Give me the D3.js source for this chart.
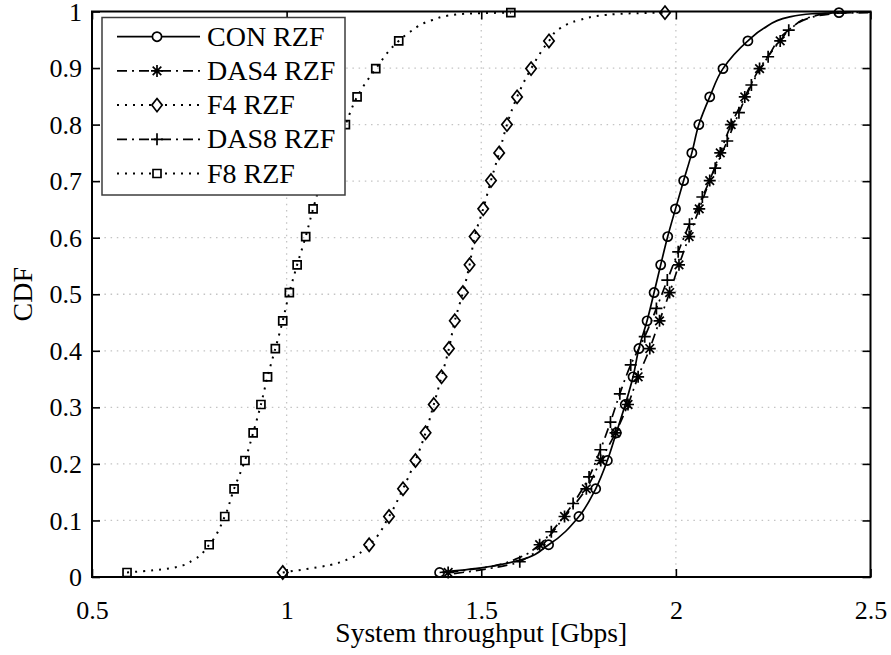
<!DOCTYPE html>
<html>
<head>
<meta charset="utf-8">
<script src="https://cdn.jsdelivr.net/npm/d3@7"></script>
<style>
  body { margin: 0; background: #fff; }
  svg text { font-family: 'Liberation Serif', 'Times New Roman', serif; fill: #000; }
</style>
</head>
<body>
<div id="grafica"></div>
<script>
// niveles de la CDF donde caen los marcadores
niveles     = [0.008, 0.057, 0.107, 0.156, 0.206, 0.255, 0.305, 0.354, 0.404, 0.453, 0.503,
               0.552, 0.602, 0.651, 0.701, 0.750, 0.800, 0.849, 0.899, 0.948, 0.998]
nivelesDas8 = [0.027, 0.080, 0.130, 0.177, 0.225, 0.274, 0.324, 0.375, 0.425, 0.475,
               0.525, 0.575, 0.624, 0.672, 0.723, 0.771, 0.821, 0.870, 0.920, 0.967]

// throughput (Gbps) en cada nivel
conX  = [1.393, 1.673, 1.751, 1.794, 1.824, 1.847, 1.870, 1.890, 1.905, 1.926, 1.944,
         1.961, 1.979, 1.999, 2.020, 2.041, 2.059, 2.087, 2.121, 2.185, 2.419]
das4X = [1.415, 1.650, 1.714, 1.770, 1.807, 1.845, 1.877, 1.903, 1.933, 1.958, 1.984,
         2.008, 2.034, 2.060, 2.087, 2.114, 2.142, 2.177, 2.215, 2.268, 2.520]
f4X   = [0.990, 1.212, 1.263, 1.299, 1.331, 1.357, 1.378, 1.398, 1.417, 1.432, 1.453,
         1.470, 1.483, 1.505, 1.525, 1.546, 1.566, 1.592, 1.628, 1.674, 1.972]
das8X = [1.599, 1.680, 1.736, 1.777, 1.806, 1.832, 1.856, 1.884, 1.920, 1.950,
         1.978, 2.006, 2.035, 2.068, 2.101, 2.132, 2.162, 2.194, 2.237, 2.290]
f8X   = [0.590, 0.801, 0.841, 0.865, 0.893, 0.914, 0.934, 0.951, 0.971, 0.990, 1.007,
         1.027, 1.049, 1.068, 1.090, 1.120, 1.151, 1.181, 1.229, 1.288, 1.576]

// colas de las curvas, puntos [x, cdf] sin marcador
conCola  = [[1.50, 0.016], [1.60, 0.030], [2.225, 0.970], [2.29, 0.990], [2.35, 0.996]]
das4Cola = [[1.52, 0.018], [1.60, 0.035], [2.30, 0.973], [2.35, 0.991], [2.40, 0.997]]
f4Cola   = [[1.05, 0.014], [1.11, 0.021], [1.16, 0.032],
            [1.702, 0.970], [1.753, 0.985], [1.821, 0.994], [1.898, 0.997]]
das8Cola = [[1.43, 0.006], [1.52, 0.015], [2.35, 0.990], [2.42, 0.997], [2.50, 0.999]]
f8Cola   = [[0.66, 0.012], [0.72, 0.018], [0.76, 0.030],
            [1.317, 0.964], [1.375, 0.985], [1.427, 0.994], [1.496, 0.997]]

nombres = ['CON RZF', 'DAS4 RZF', 'F4 RZF', 'DAS8 RZF', 'F8 RZF']
xTicks  = [0.5, 1, 1.5, 2, 2.5]
yTicks  = [0, 0.1, 0.2, 0.3, 0.4, 0.5, 0.6, 0.7, 0.8, 0.9, 1]

ancho_total = 891
alto_total  = 655
margin = { left: 92, right: 20.5, top: 11.5, bottom: 78 }

ancho = ancho_total - margin.left - margin.right
alto  = alto_total - margin.top - margin.bottom

svg = d3
        .select('#grafica')
        .append('svg')
        .attr('width', ancho_total)
        .attr('height', alto_total)

g = svg
      .append('g')
      .attr('transform', `translate(${margin.left}, ${margin.top})`)

x = d3.scaleLinear().domain([0.5, 2.5]).range([0, ancho])
y = d3.scaleLinear().domain([0, 1]).range([alto, 0])

svg.append('defs')
  .append('clipPath')
  .attr('id', 'recorte')
  .append('rect')
  .attr('width', ancho)
  .attr('height', alto)

// rejilla punteada
g.append('g')
  .selectAll('line')
  .data(xTicks.slice(1, -1))
  .enter()
  .append('line')
    .attr('x1', (d) => x(d))
    .attr('x2', (d) => x(d))
    .attr('y1', 0)
    .attr('y2', alto)
g.append('g')
  .selectAll('line')
  .data(yTicks.slice(1, -1))
  .enter()
  .append('line')
    .attr('x1', 0)
    .attr('x2', ancho)
    .attr('y1', (d) => y(d))
    .attr('y2', (d) => y(d))
g.selectAll('line')
  .attr('stroke', '#c4c4c4')
  .attr('stroke-width', 1.3)
  .attr('stroke-dasharray', '1.5,4.7')

// ejes con marcas hacia dentro
fmt = (d) => d3.format('')(d)

xGroup = g.append('g')
          .attr('transform', `translate(0, ${alto})`)
          .call(d3.axisBottom(x).tickValues(xTicks).tickFormat(fmt).tickSizeInner(-8).tickSizeOuter(0))
xGroup.selectAll('text').attr('y', 42).attr('dy', 0).attr('font-size', '26px')

yGroup = g.append('g')
          .call(d3.axisLeft(y).tickValues(yTicks).tickFormat(fmt).tickSizeInner(-8).tickSizeOuter(0))
yGroup.selectAll('text').attr('x', -10).attr('dy', '0.33em').attr('font-size', '26px')

g.append('g')
  .call(d3.axisTop(x).tickValues(xTicks).tickFormat('').tickSizeInner(-8).tickSizeOuter(0))
g.append('g')
  .attr('transform', `translate(${ancho}, 0)`)
  .call(d3.axisRight(y).tickValues(yTicks).tickFormat('').tickSizeInner(-8).tickSizeOuter(0))

g.selectAll('.domain').remove()
g.selectAll('.tick line').attr('stroke', '#000').attr('stroke-width', 1.6)
g.selectAll('.tick text').attr('fill', '#000').attr('font-family', "'Liberation Serif', serif")

g.append('rect')
  .attr('width', ancho)
  .attr('height', alto)
  .attr('fill', 'none')
  .attr('stroke', '#000')
  .attr('stroke-width', 2)

svg.append('text')
  .attr('x', margin.left + ancho / 2)
  .attr('y', 642)
  .attr('text-anchor', 'middle')
  .attr('font-size', '27.5px')
  .text('System throughput [Gbps]')

svg.append('text')
  .attr('transform', `translate(31.5, ${margin.top + alto / 2}) rotate(-90)`)
  .attr('text-anchor', 'middle')
  .attr('font-size', '28px')
  .text('CDF')

// formas de los marcadores
function marcador(tipo) {
  if (tipo == 'o') return d3.symbol().type(d3.symbolCircle).size(66)()
  if (tipo == 's') return 'M-4,-4H4V4H-4Z'
  if (tipo == 'd') return 'M0,-6.6L5.2,0L0,6.6L-5.2,0Z'
  if (tipo == '+') return 'M-6,0H6M0,-6V6'
  return 'M-6,0H6M0,-6V6M-4.3,-4.3L4.3,4.3M-4.3,4.3L4.3,-4.3'
}

series = [
  { nombre: nombres[0], xs: conX,  niv: niveles,     cola: conCola,  guion: null,       m: 'o' },
  { nombre: nombres[1], xs: das4X, niv: niveles,     cola: das4Cola, guion: '10,5,2,5', m: '*' },
  { nombre: nombres[2], xs: f4X,   niv: niveles,     cola: f4Cola,   guion: '2,6',      m: 'd' },
  { nombre: nombres[3], xs: das8X, niv: nivelesDas8, cola: das8Cola, guion: '10,5,2,5', m: '+' },
  { nombre: nombres[4], xs: f8X,   niv: niveles,     cola: f8Cola,   guion: '2,6',      m: 's' }
]

linea = d3.line()
          .x((d) => x(d[0]))
          .y((d) => y(d[1]))
          .curve(d3.curveMonotoneY)

series.forEach((s) => {
  marcas = s.xs.map((v, i) => [v, s.niv[i]])
  puntos = marcas.concat(s.cola).sort((a, b) => a[1] - b[1])

  g.append('path')
    .datum(puntos)
    .attr('clip-path', 'url(#recorte)')
    .attr('d', linea)
    .attr('fill', 'none')
    .attr('stroke', '#000')
    .attr('stroke-width', s.guion == '2,6' ? 2 : 1.7)
    .attr('stroke-dasharray', s.guion)

  g.append('g')
    .selectAll('path')
    .data(marcas.filter((d) => d[0] <= 2.5))
    .enter()
    .append('path')
      .attr('transform', (d) => `translate(${x(d[0])}, ${y(d[1])})`)
      .attr('d', marcador(s.m))
      .attr('fill', 'none')
      .attr('stroke', '#000')
      .attr('stroke-width', 1.7)
})

// leyenda
leyenda = svg
            .append('g')
            .attr('transform', 'translate(102, 17.5)')

leyenda
  .append('rect')
  .attr('width', 243)
  .attr('height', 177.5)
  .attr('fill', '#fff')
  .attr('stroke', '#3c3c3c')
  .attr('stroke-width', 1.5)

series.forEach((s, i) => {
  ren = leyenda
          .append('g')
          .attr('transform', `translate(0, ${19.2 + i * 34.2})`)

  ren
    .append('line')
    .attr('x1', 15)
    .attr('x2', 98)
    .attr('stroke', '#000')
    .attr('stroke-width', s.guion == '2,6' ? 2 : 1.7)
    .attr('stroke-dasharray', s.guion)

  ren
    .append('path')
    .attr('transform', 'translate(55, 0)')
    .attr('d', marcador(s.m))
    .attr('fill', '#fff')
    .attr('stroke', '#000')
    .attr('stroke-width', 1.7)

  ren
    .append('text')
    .attr('x', 105)
    .attr('y', 9)
    .attr('font-size', '28px')
    .text(s.nombre)
})
</script>
</body>
</html>
